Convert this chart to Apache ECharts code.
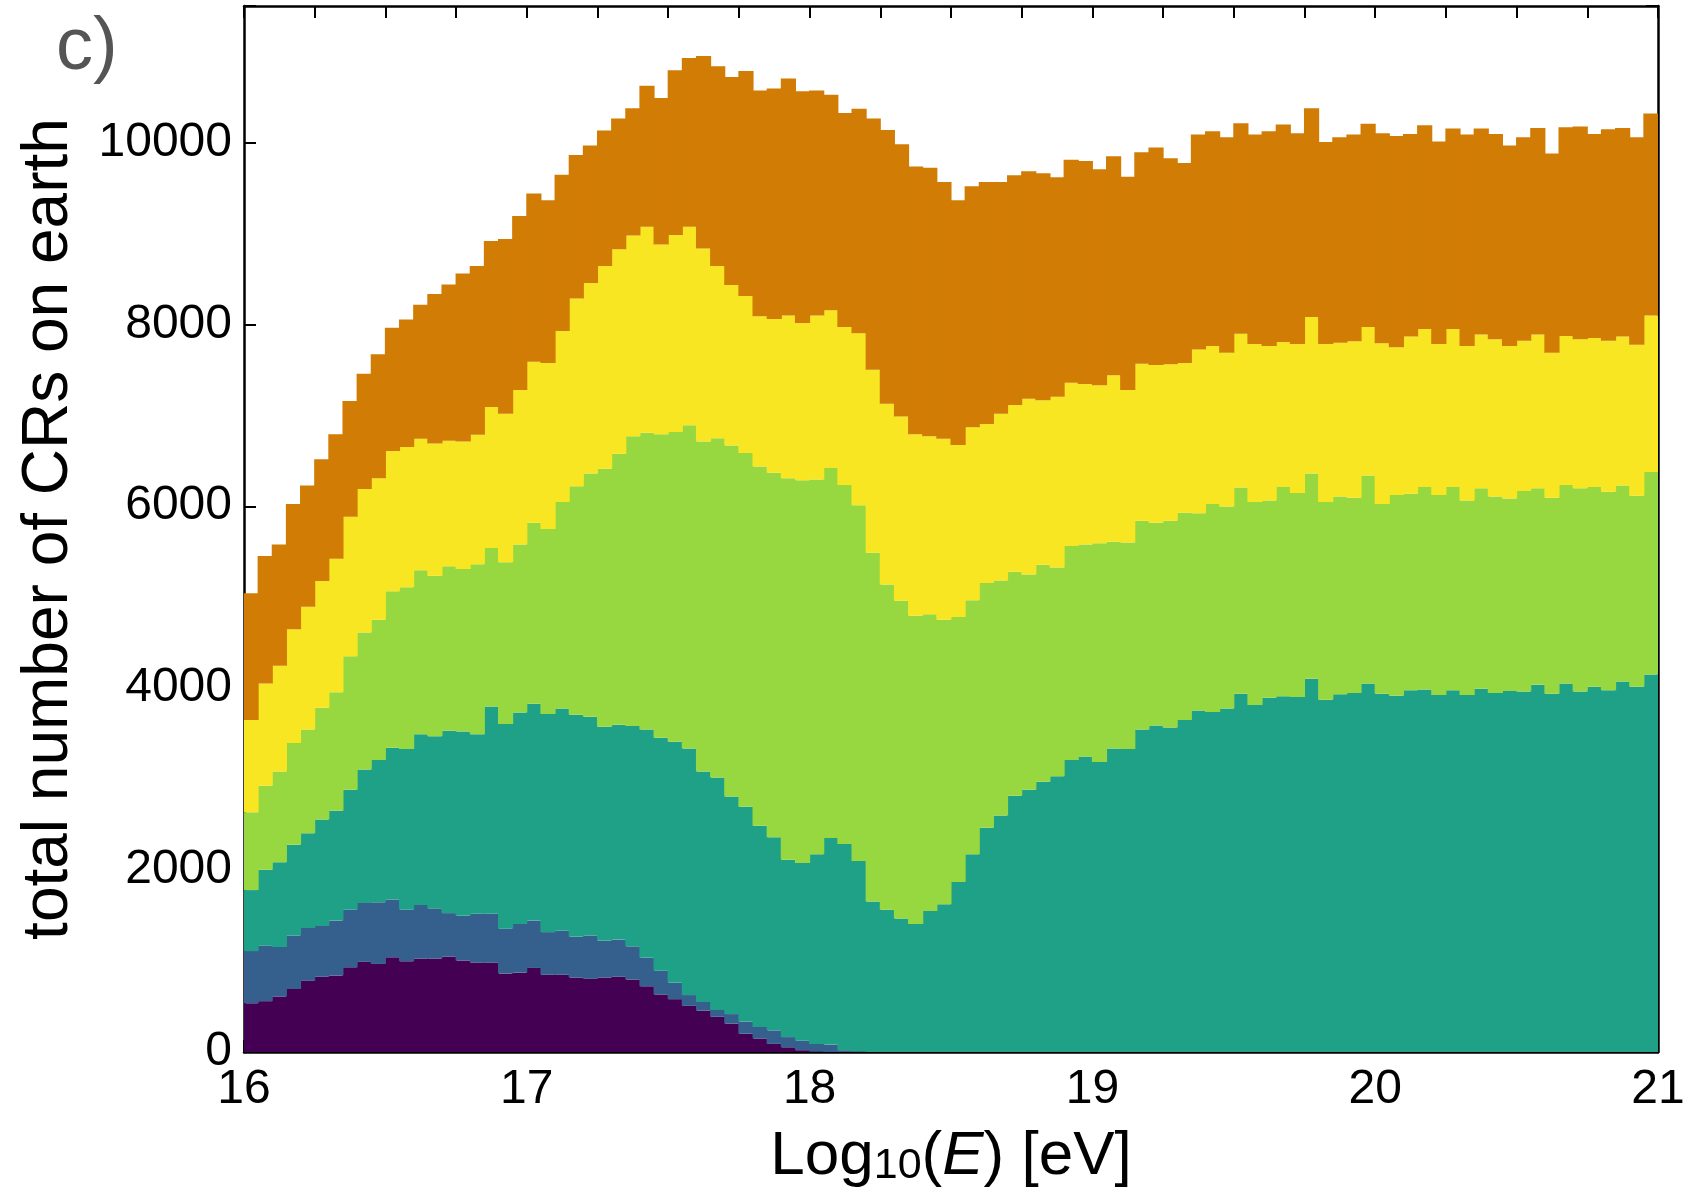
<!DOCTYPE html>
<html>
<head>
<meta charset="utf-8">
<script src="https://cdn.jsdelivr.net/npm/echarts@6/dist/echarts.min.js"></script>
<style>
html,body{margin:0;padding:0;background:#fff;}
#chart{width:1688px;height:1193px;}
</style>
</head>
<body>
<div id="chart"></div>
<script>
// log10(E) bin edges: 16 to 21, 100 bins of width 0.05
const binStart = 16, binWidth = 0.05, nBins = 100;
const xTickLabels = [16, 17, 18, 19, 20, 21];
const yTickLabels = [0, 2000, 4000, 6000, 8000, 10000];

// counts per bin for each stacked group (bottom to top)
const group1 = [536,559,611,693,782,827,842,931,991,968,1043,998,1028,1028,1050,1006,983,983,864,872,
924,849,849,819,804,819,827,797,723,633,581,507,454,387,313,201,149,89,52,20,
5,0,0,0,0,0,0,0,0,0,0,0,0,0,0,0,0,0,0,0,
0,0,0,0,0,0,0,0,0,0,0,0,0,0,0,0,0,0,0,0,
0,0,0,0,0,0,0,0,0,0,0,0,0,0,0,0,0,0,0,0];
const group2 = [574,610,544,588,581,558,603,633,648,678,633,566,588,551,477,491,537,537,492,536,
521,469,484,447,477,403,409,365,312,261,179,119,97,75,104,134,127,149,112,107,
84,82,20,5,0,0,0,0,0,0,0,0,0,0,0,0,0,0,0,0,
0,0,0,0,0,0,0,0,0,0,0,0,0,0,0,0,0,0,0,0,
0,0,0,0,0,0,0,0,0,0,0,0,0,0,0,0,0,0,0,0];
const group3 = [670,835,931,998,1043,1170,1207,1319,1467,1564,1669,1766,1877,1892,2004,2026,1973,2279,2249,2324,
2384,2399,2444,2443,2406,2353,2362,2421,2511,2562,2652,2711,2533,2555,2391,2361,2212,2123,1951,1951,
2086,2272,2267,2096,1654,1564,1467,1408,1549,1624,1870,2175,2466,2600,2816,2883,2972,3032,3210,3248,
3188,3337,3330,3546,3590,3568,3650,3754,3739,3777,3940,3814,3896,3911,3903,4104,3873,3933,3948,4052,
3940,3918,3978,3985,3926,3978,3926,3993,3948,3970,3963,4037,3940,4052,3963,4015,3978,4074,4015,4149];
const group4 = [857,923,998,1118,1140,1229,1303,1467,1505,1542,1720,1780,1803,1766,1810,1788,1870,1743,1780,1847,
1989,2033,2271,2511,2674,2838,2979,3188,3262,3337,3404,3553,3627,3732,3859,3889,3948,4008,4194,4209,
4119,4067,3948,3910,3836,3576,3494,3389,3263,3128,2912,2793,2689,2584,2465,2368,2384,2294,2354,2331,
2406,2272,2271,2294,2228,2272,2279,2168,2287,2219,2265,2234,2167,2301,2242,2257,2175,2175,2145,2287,
2086,2205,2160,2227,2197,2234,2137,2204,2160,2116,2205,2160,2153,2183,2234,2197,2182,2153,2100,2227];
const group5 = [1013,1125,1162,1251,1348,1393,1468,1535,1579,1557,1542,1542,1445,1452,1378,1400,1423,1549,1632,1698,
1772,1825,1878,2063,2093,2228,2250,2205,2265,2086,2167,2183,2123,1892,1765,1728,1653,1691,1788,1728,
1803,1735,1735,1892,2011,1988,2026,1996,1959,1989,1892,1900,1750,1833,1833,1930,1810,1877,1795,1766,
1736,1832,1676,1728,1735,1721,1646,1802,1736,1691,1691,1736,1699,1594,1639,1721,1736,1691,1721,1631,
1765,1624,1728,1736,1661,1736,1699,1691,1728,1676,1653,1691,1594,1638,1639,1639,1661,1639,1662,1721];
const group6 = [1393,1400,1333,1378,1333,1341,1370,1273,1266,1363,1356,1400,1475,1646,1720,1848,1855,1825,1922,1915,
1848,1788,1720,1579,1512,1489,1437,1400,1549,1609,1810,1854,2116,2197,2287,2473,2481,2532,2607,2547,
2473,2369,2354,2466,2763,3010,2994,2942,2950,2823,2689,2651,2659,2547,2525,2502,2495,2413,2451,2450,
2376,2406,2347,2324,2391,2264,2198,2362,2361,2369,2316,2302,2361,2391,2317,2294,2220,2257,2272,2235,
2310,2324,2227,2242,2227,2205,2324,2265,2257,2204,2235,2272,2190,2295,2339,2242,2324,2294,2279,2220];

const groups = [group1, group2, group3, group4, group5, group6];
const colors = ['#440154', '#355f8d', '#1fa187', '#97d840', '#f8e622', '#d17c05'];

const categories = [];
for (let i = 0; i < nBins; i++) categories.push((binStart + (i + 0.5) * binWidth).toFixed(3));

const FONT = 'Liberation Sans, Arial, Helvetica, sans-serif';
const chart = echarts.init(document.getElementById('chart'), null, {renderer: 'canvas'});

const series = groups.map((g, k) => ({
  type: 'bar',
  stack: 'total',
  xAxisIndex: 0,
  yAxisIndex: 0,
  barWidth: 15.2,
  barGap: '-100%',
  silent: true,
  animation: false,
  clip: true,
  itemStyle: {color: colors[k], borderWidth: 0},
  data: g.map(v => (v === 0 ? '-' : v))
}));

const tickStyle = {inside: true, length: 12, lineStyle: {color: '#000', width: 2}};
const lineStyle = {show: true, lineStyle: {color: '#000', width: 2.5}};

chart.setOption({
  animation: false,
  backgroundColor: '#fff',
  grid: {left: 244, top: 6, width: 1414, height: 1054, containLabel: false},
  xAxis: [
    {type: 'category', data: categories, show: false, gridIndex: 0},
    {
      type: 'value', min: 16, max: 21, interval: 0.25, position: 'bottom',
      axisLine: lineStyle, axisTick: tickStyle, splitLine: {show: false},
      axisLabel: {
        margin: 14, fontSize: 48, color: '#000', fontFamily: FONT,
        formatter: v => (xTickLabels.indexOf(v) >= 0 ? String(v) : '')
      },
      name: '{a|Log}{s|10}{a|(}{i|E}{a|) [eV]}',
      nameLocation: 'middle', nameGap: 60,
      nameTextStyle: {
        fontSize: 62, color: '#000', fontFamily: FONT,
        rich: {
          a: {fontSize: 62, lineHeight: 76, verticalAlign: 'bottom', fontFamily: FONT, color: '#000'},
          s: {fontSize: 43, lineHeight: 40, verticalAlign: 'bottom', fontFamily: FONT, color: '#000'},
          i: {fontSize: 62, lineHeight: 76, verticalAlign: 'bottom', fontStyle: 'italic', fontFamily: FONT, color: '#000'}
        }
      }
    },
    {
      type: 'value', min: 16, max: 21, interval: 0.25, position: 'top',
      axisLine: lineStyle, axisTick: tickStyle, splitLine: {show: false},
      axisLabel: {show: false}
    }
  ],
  yAxis: [
    {
      type: 'value', min: 0, max: 11500, interval: 2000, position: 'left',
      axisLine: lineStyle, axisTick: tickStyle, splitLine: {show: false},
      axisLabel: {
        margin: 12, fontSize: 48, color: '#000', fontFamily: FONT,
        formatter: v => (yTickLabels.indexOf(v) >= 0 ? String(v) : '')
      },
      name: 'total number of CRs on earth',
      nameLocation: 'middle', nameGap: 163,
      nameTextStyle: {fontSize: 64, color: '#000', fontFamily: FONT}
    },
    {
      type: 'value', min: 0, max: 11500, interval: 2000, position: 'right',
      axisLine: lineStyle, axisTick: tickStyle, splitLine: {show: false},
      axisLabel: {show: false}
    }
  ],
  graphic: [{
    type: 'text', left: 56, top: 12,
    style: {text: 'c)', fontSize: 74, fill: '#555', fontFamily: FONT}
  }],
  series: series
});
</script>
</body>
</html>
